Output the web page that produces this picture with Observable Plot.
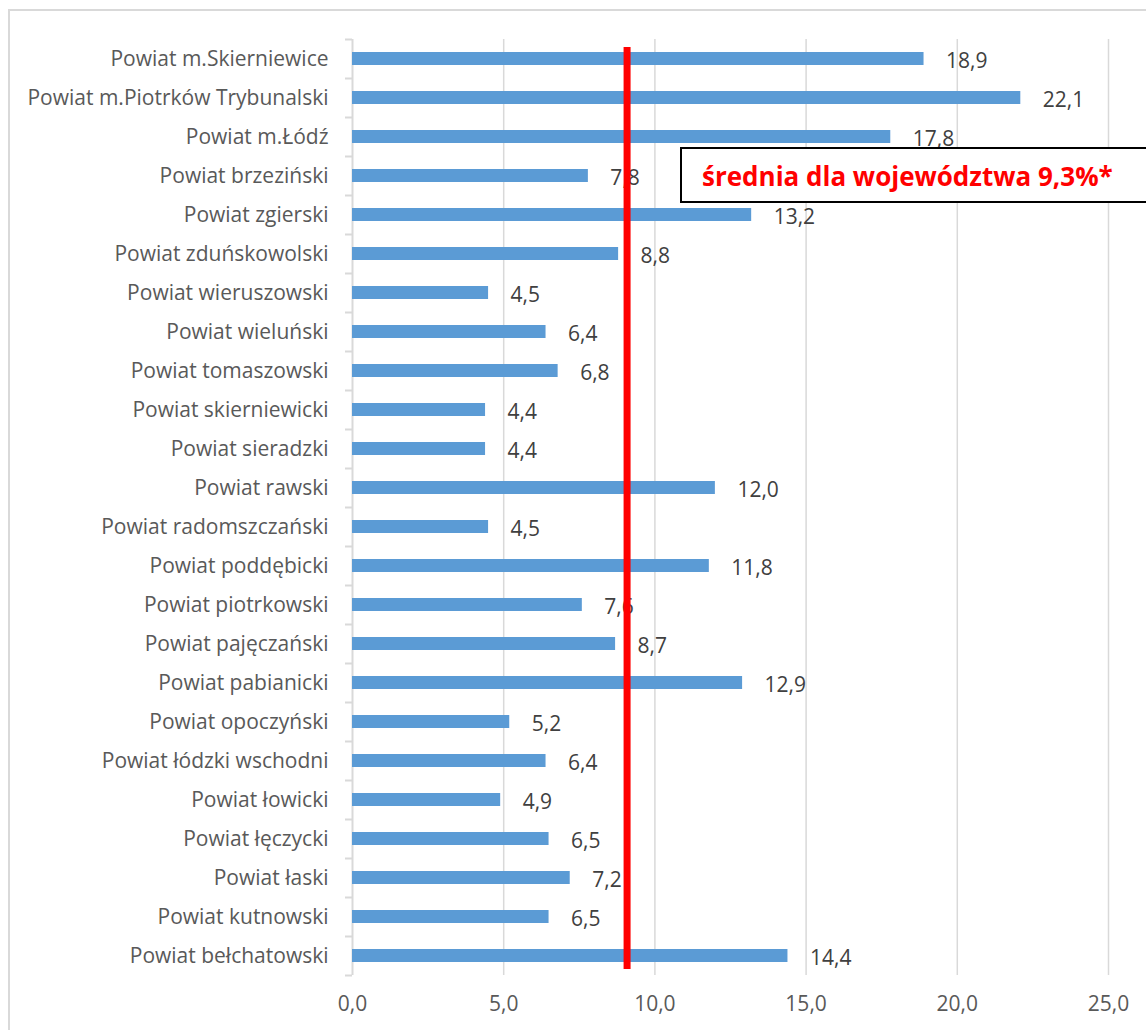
<!DOCTYPE html>
<html>
<head>
<meta charset="utf-8">
<script src="https://cdn.jsdelivr.net/npm/d3@7"></script>
<script src="https://cdn.jsdelivr.net/npm/@observablehq/plot@0.6"></script>
<style>
  html, body { margin: 0; padding: 0; background: #fff; overflow: hidden; }
  #wrap { position: relative; width: 1146px; height: 1030px; }
  #frame { position: absolute; left: 8px; top: 9px; width: 1200px; height: 1100px; border: 2px solid #d9d9d9; box-sizing: border-box; }
  #chart { position: absolute; left: 0; top: 0; }
  #note { position: absolute; left: 680px; top: 147px; width: 520px; height: 56px; box-sizing: border-box;
          border: 2px solid #000; background: #fff; color: #ff0000; font-family: "Open Sans", sans-serif;
          font-weight: bold; font-size: 26px; line-height: 54px; padding-left: 20px; white-space: nowrap; }
</style>
</head>
<body>
<div id="wrap">
  <div id="frame"></div>
  <div id="chart"></div>
  <div id="note"></div>
</div>
<script>
const categories = [
  "Powiat m.Skierniewice",
  "Powiat m.Piotrków Trybunalski",
  "Powiat m.Łódź",
  "Powiat brzeziński",
  "Powiat zgierski",
  "Powiat zduńskowolski",
  "Powiat wieruszowski",
  "Powiat wieluński",
  "Powiat tomaszowski",
  "Powiat skierniewicki",
  "Powiat sieradzki",
  "Powiat rawski",
  "Powiat radomszczański",
  "Powiat poddębicki",
  "Powiat piotrkowski",
  "Powiat pajęczański",
  "Powiat pabianicki",
  "Powiat opoczyński",
  "Powiat łódzki wschodni",
  "Powiat łowicki",
  "Powiat łęczycki",
  "Powiat łaski",
  "Powiat kutnowski",
  "Powiat bełchatowski"
];
const values = [18.9, 22.1, 17.8, 7.8, 13.2, 8.8, 4.5, 6.4, 6.8, 4.4, 4.4, 12.0, 4.5, 11.8, 7.6, 8.7, 12.9, 5.2, 6.4, 4.9, 6.5, 7.2, 6.5, 14.4];
const xTicks = [0, 5, 10, 15, 20, 25];
const averageMarker = 9.08;   // where the red line is drawn in the picture
const noteText = "średnia dla województwa 9,3%*";

const data = categories.map((c, i) => ({cat: c, value: values[i]}));
const fmt = d => d.toFixed(1).replace(".", ",");
const FONT = "Open Sans, sans-serif";

const chart = Plot.plot({
  width: 1146,
  height: 1030,
  marginLeft: 352,
  marginRight: 38,
  marginTop: 39,
  marginBottom: 55,
  style: {fontFamily: FONT, fontSize: "21px", color: "#595959", background: "transparent"},
  x: {domain: [0, 25], ticks: xTicks, label: null},
  y: {domain: categories, paddingInner: 0.66, paddingOuter: 0.33, label: null},
  marks: [
    Plot.gridX(xTicks.filter(d => d > 0), {stroke: "#d9d9d9", strokeOpacity: 1, strokeWidth: 1.5}),
    Plot.ruleX([0], {stroke: "#d9d9d9", strokeWidth: 2}),
    Plot.axisY({tickSize: 7, text: null, stroke: "#d9d9d9", strokeWidth: 2, dy: -19.5}),
    Plot.axisY([categories[categories.length - 1]], {tickSize: 7, text: null, stroke: "#d9d9d9", strokeWidth: 2, dy: 19.5}),
    Plot.axisY({tickSize: 0, tickPadding: 24, fill: "#595959", fontSize: 21}),
    Plot.axisX(xTicks, {tickSize: 0, tickPadding: 21, tickFormat: fmt, fill: "#595959", fontSize: 21}),
    Plot.barX(data, {x: "value", y: "cat", fill: "#5b9bd5"}),
    Plot.text(data, {x: "value", y: "cat", text: d => fmt(d.value), dx: 22, dy: 2, textAnchor: "start", fill: "#404040", fontSize: 21}),
    Plot.ruleX([averageMarker], {stroke: "#ff0000", strokeWidth: 7, insetTop: 8, insetBottom: 6})
  ]
});
document.getElementById("chart").appendChild(chart);
document.getElementById("note").textContent = noteText;
</script>
</body>
</html>
